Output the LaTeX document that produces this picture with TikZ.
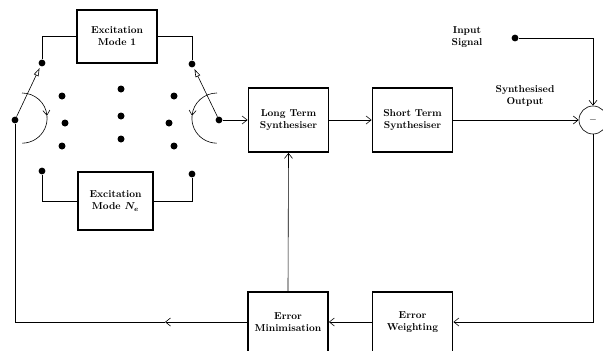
\documentclass[tikz,border=0pt]{standalone}
\usepackage{amsmath,amssymb}
\usetikzlibrary{positioning,arrows.meta}

\tikzset{
  block/.style={draw,line width=1.8pt,align=center,font=\bfseries,inner sep=0pt},
  dot/.style={circle,fill,inner sep=0pt,minimum size=2.4mm},
  wire/.style={line width=0.6pt},
  sig/.style={wire,-{Straight Barb[length=5pt,width=8pt]}},
  lever/.style={wire,-{Triangle[open,length=8pt,width=5pt]},shorten >=2pt},
}

\begin{document}
\begin{tikzpicture}[x=0.035cm,y=-0.035cm]
\useasboundingbox (0,0) rectangle (603,351);
\clip (0,0) rectangle (603,351);

% blocks
\node[block,minimum width=2.8cm,minimum height=1.85cm] (exc1) at (117,36.5) {Excitation\\Mode 1};
\node[block,minimum width=2.63cm,minimum height=2.03cm] (excn) at (115.5,201) {Excitation\\Mode $\boldsymbol{N_e}$};
\node[block,minimum width=2.8cm,minimum height=2.24cm] (lts) at (288.5,120) {Long Term\\Synthesiser};
\node[block,minimum width=2.8cm,minimum height=2.24cm] (sts) at (412.5,120) {Short Term\\Synthesiser};
\node[block,minimum width=2.8cm,minimum height=2.1cm] (errmin) at (288,322) {Error\\Minimisation};
\node[block,minimum width=2.8cm,minimum height=2.1cm] (errw) at (412.5,322) {Error\\Weighting};
\node[draw,wire,circle,minimum size=0.98cm,inner sep=0pt] (sum) at (593,120) {$-$};

% switch contacts
\node[dot] (ltop) at (42,63) {};
\node[dot] (rtop) at (192,64) {};
\node[dot] (lbot) at (42,171) {};
\node[dot] (rbot) at (192,174) {};
\node[dot] (lpiv) at (15,120) {};
\node[dot] (rpiv) at (219,120) {};
\node[dot] (indot) at (515,38) {};
\coordinate (lmid) at (165,322);

\foreach \px/\py in {62/96,121/89,174/96,65/123,121/116,169/123,62/146,121/139,174/146}
  \fill (\px,\py) circle (3.5);

% labels
\node[font=\bfseries,align=center] (inlab) at (467,37) {Input\\Signal};
\node[font=\bfseries,align=center] (outlab) at (525,96) {Synthesised\\Output};

% wiring
\draw[wire] (ltop) |- (exc1.west);
\draw[wire] (rtop) |- (exc1.east);
\draw[wire] (lbot) |- (excn.west);
\draw[wire] (rbot) |- (excn.east);
\draw[lever] (lpiv) -- (ltop);
\draw[lever] (rpiv) -- (rtop);

% switch arcs
\draw[wire,-{Straight Barb[length=5pt,width=7pt]}] (22,93) arc[start angle=-90,end angle=-5,radius=25];
\draw[wire] (47,116) arc[start angle=-5,end angle=90,radius=25];
\draw[wire,-{Straight Barb[length=5pt,width=7pt]}] (217,93) arc[start angle=270,end angle=185,radius=25];
\draw[wire] (192,116) arc[start angle=185,end angle=90,radius=25];

\draw[sig] (rpiv) -- (lts.west);
\draw[sig] (lts.east) -- (sts.west);
\draw[sig] (sts.east) -- (sum.west);
\draw[sig] (indot) -| (sum.north);
\draw[sig] (sum.south) |- (errw.east);
\draw[sig] (errw.west) -- (errmin.east);
\draw[sig] (errmin.north) -- (lts.south);
\draw[sig] (errmin.west) -- (lmid);
\draw[wire] (lmid) -| (lpiv);
\end{tikzpicture}
\end{document}
